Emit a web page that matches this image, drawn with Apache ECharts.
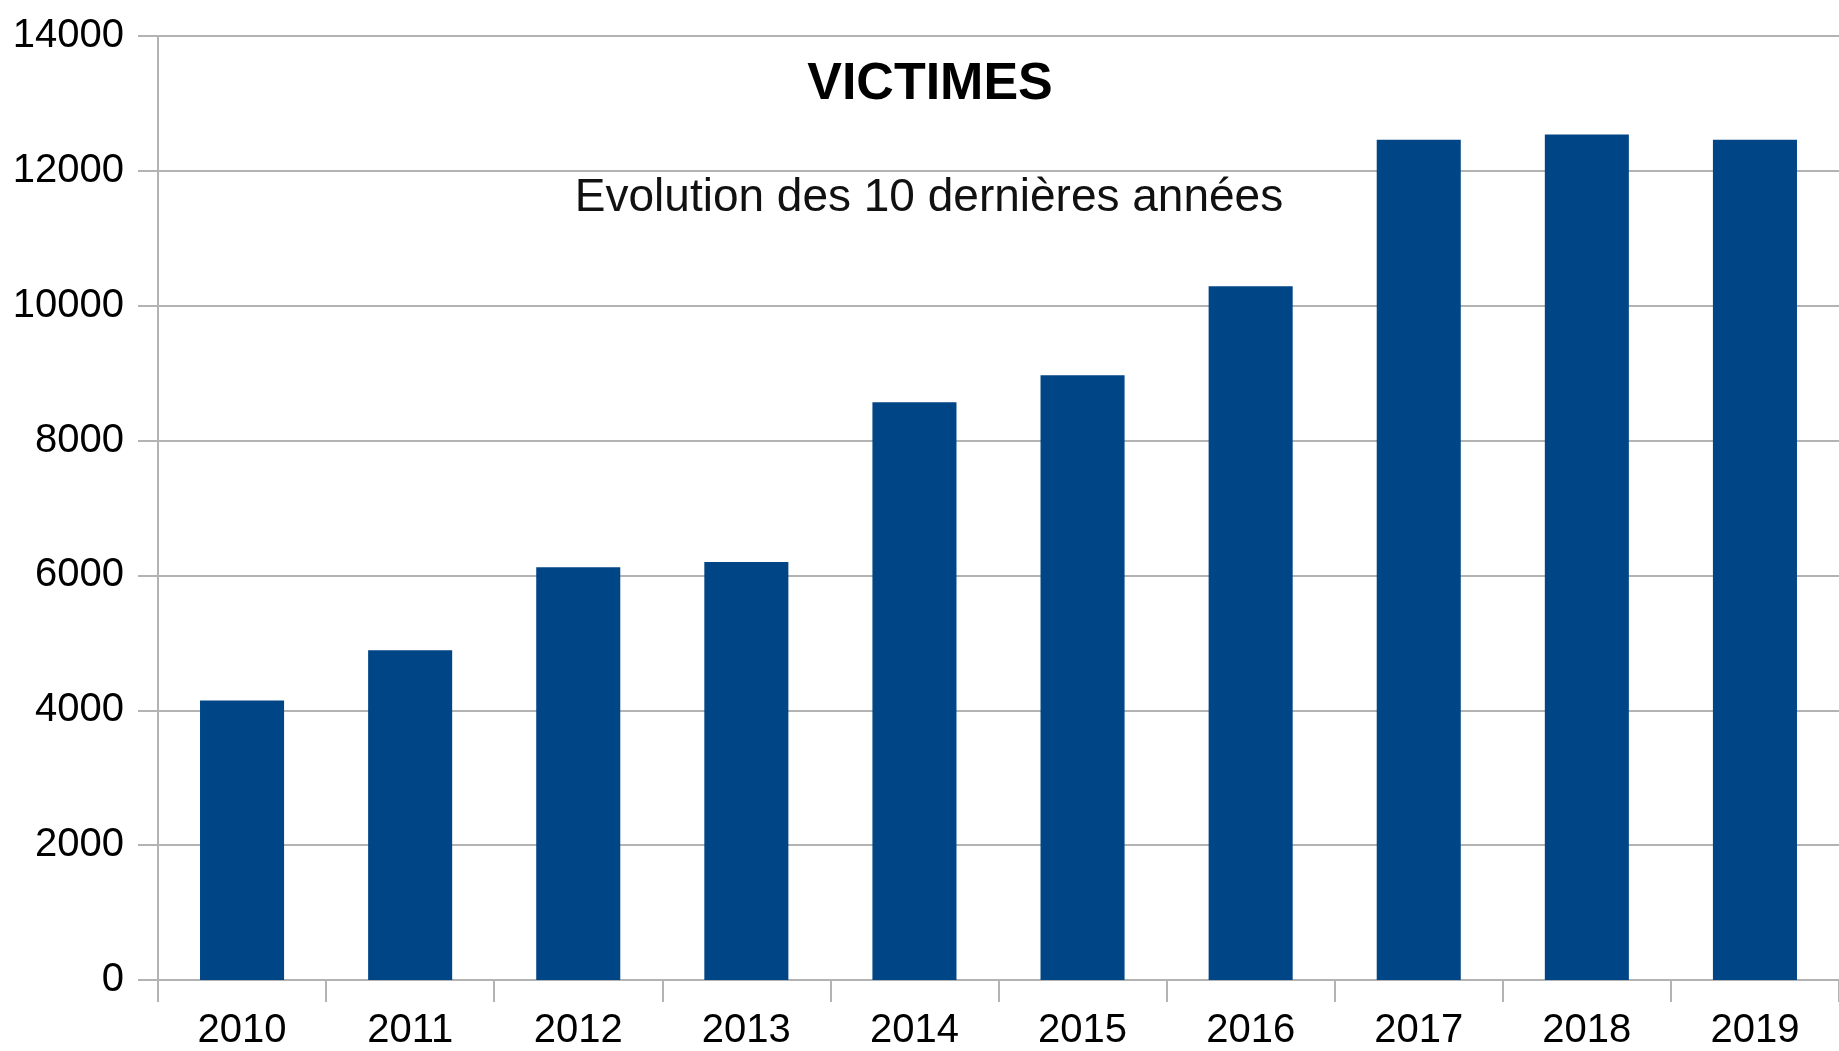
<!DOCTYPE html>
<html>
<head>
<meta charset="utf-8">
<title>Victimes</title>
<script src="https://cdn.jsdelivr.net/npm/echarts@6/dist/echarts.min.js"></script>
<style>
html, body { margin: 0; padding: 0; background: #fff; }
#main { width: 1839px; height: 1051px; }
</style>
</head>
<body>
<div id="main"></div>
<script>
// victimes par année, évolution sur 10 ans
var annees = ['2010', '2011', '2012', '2013', '2014', '2015', '2016', '2017', '2018', '2019'];
var victimes = [4145, 4890, 6120, 6200, 8570, 8970, 10290, 12460, 12540, 12460];
var titre = 'VICTIMES';
var sousTitre = 'Evolution des 10 dernières années';

var dom = document.getElementById('main');
var myChart = echarts.init(dom, null, { renderer: 'canvas' });

var gris = '#b3b3b3';
var police = 'Liberation Sans';

var option = {
    backgroundColor: '#ffffff',
    animation: false,
    title: [
        {
            text: titre,
            left: 925,
            top: 54,
            textAlign: 'center',
            textStyle: { fontFamily: police, fontSize: 52, fontWeight: 'bold', color: '#000' }
        },
        {
            text: sousTitre,
            left: 924,
            top: 170,
            textAlign: 'center',
            textStyle: { fontFamily: police, fontSize: 46, fontWeight: 'normal', color: '#111' }
        }
    ],
    grid: {
        left: 158,
        right: -5,
        top: 36,
        bottom: 71,
        containLabel: false
    },
    xAxis: {
        type: 'category',
        data: annees,
        axisLine: { show: true, lineStyle: { color: gris, width: 2 } },
        axisTick: { show: true, length: 22, lineStyle: { color: gris, width: 2 } },
        axisLabel: { fontFamily: police, fontSize: 40, color: '#000', margin: 31 }
    },
    yAxis: {
        type: 'value',
        min: 0,
        max: 14000,
        interval: 2000,
        axisLine: { show: true, lineStyle: { color: gris, width: 2 } },
        axisTick: { show: true, length: 20, lineStyle: { color: gris, width: 2 } },
        splitLine: { show: true, lineStyle: { color: gris, width: 2 } },
        axisLabel: {
            fontFamily: police,
            fontSize: 40,
            color: '#000',
            margin: 34,
            formatter: function (v) { return String(v); }
        }
    },
    series: [
        {
            name: titre,
            type: 'bar',
            data: victimes,
            barWidth: '50%',
            itemStyle: { color: '#004586' }
        }
    ]
};

myChart.setOption(option, true);
</script>
</body>
</html>
